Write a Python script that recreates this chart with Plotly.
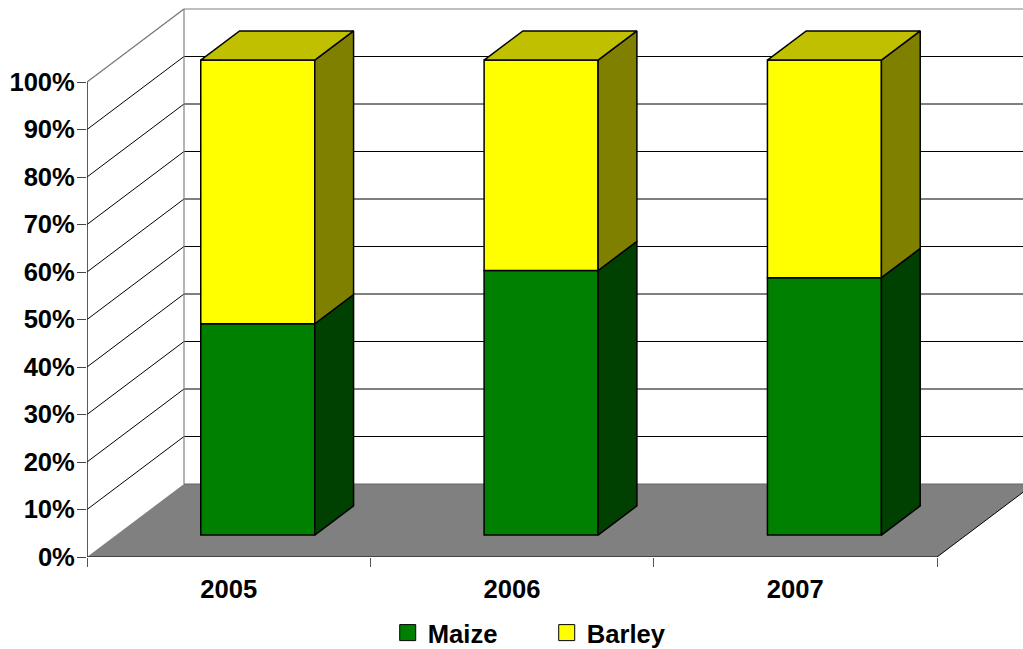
import plotly.graph_objects as go

# Chart data: share of each crop per year, in percent
years = ["2005", "2006", "2007"]
maize = [44.5, 55.7, 54.2]
barley = [55.5, 44.3, 45.8]
y_ticks = [0, 10, 20, 30, 40, 50, 60, 70, 80, 90, 100]
y_labels = ["0%", "10%", "20%", "30%", "40%", "50%", "60%", "70%", "80%", "90%", "100%"]
x_ticks = [0, 1, 2, 3]

# Oblique projection: moving to the back wall shifts a point by this much in axis units
DEPTH_X = 97 / (850 / 3)
DEPTH_Y = 73 / 4.75
X_MAX = 936 / (850 / 3)
Y_MAX = 557 / 4.75
BAR_WIDTH = 114 / (850 / 3)
BAR_NEAR, BAR_FAR = 0.3, 0.7
FONT = dict(family="Liberation Sans, Arial, sans-serif", size=25.6, color="black", weight=700)

GREEN, GREEN_SIDE = "#008000", "#004000"
YELLOW, YELLOW_SIDE, YELLOW_TOP = "#ffff00", "#808000", "#c0c000"


def polygon(points):
    return "M" + " L".join(f"{x},{y}" for x, y in points) + " Z"


def wall_line(points, color="black", width=1):
    path = "M" + " L".join(f"{x},{y}" for x, y in points)
    return dict(type="path", path=path, layer="below", xref="x", yref="y",
                line=dict(color=color, width=width))


# Floor and back/side walls sit beneath the bars
shapes = [dict(type="path", layer="below", xref="x", yref="y", fillcolor="#808080",
               line=dict(color="#808080", width=0),
               path=polygon([(0, 0), (3, 0), (3 + DEPTH_X, DEPTH_Y), (DEPTH_X, DEPTH_Y)]))]
for v in y_ticks[1:]:
    color = "#808080" if v == 100 else "black"
    shapes.append(wall_line([(0, v), (DEPTH_X, v + DEPTH_Y), (X_MAX, v + DEPTH_Y)], color))
shapes.append(wall_line([(DEPTH_X, DEPTH_Y), (X_MAX, DEPTH_Y)], "#666666"))
shapes.append(wall_line([(DEPTH_X, DEPTH_Y), (DEPTH_X, 100 + DEPTH_Y)], "#808080", 1.2))
shapes.append(wall_line([(3, 0), (3 + DEPTH_X, DEPTH_Y)], "black"))

fig = go.Figure()

centers = [i + 0.5 + BAR_NEAR * DEPTH_X for i in range(len(years))]
lift = BAR_NEAR * DEPTH_Y
bar_line = dict(color="black", width=1.5)

# Front faces of the stacked columns
fig.add_bar(x=centers, y=maize, base=[lift] * 3, width=BAR_WIDTH, marker_color=GREEN,
            marker_line=bar_line, showlegend=False, hoverinfo="skip")
fig.add_bar(x=centers, y=barley, base=[lift + m for m in maize], width=BAR_WIDTH,
            marker_color=YELLOW, marker_line=bar_line, showlegend=False, hoverinfo="skip")


def add_face(points, color):
    xs, ys = zip(*(points + points[:1]))
    fig.add_scatter(x=xs, y=ys, mode="lines", fill="toself", fillcolor=color,
                    line=dict(color="black", width=1.5), showlegend=False,
                    hoverinfo="skip", cliponaxis=False)


# Side and top faces, derived from the same values as the front faces
span = BAR_FAR - BAR_NEAR
for c, m, b in zip(centers, maize, barley):
    right = c + BAR_WIDTH / 2
    left = c - BAR_WIDTH / 2
    dx, dy = span * DEPTH_X, span * DEPTH_Y
    low, mid, top = lift, lift + m, lift + m + b
    add_face([(right, low), (right + dx, low + dy), (right + dx, mid + dy), (right, mid)], GREEN_SIDE)
    add_face([(right, mid), (right + dx, mid + dy), (right + dx, top + dy), (right, top)], YELLOW_SIDE)
    add_face([(left, top), (right, top), (right + dx, top + dy), (left + dx, top + dy)], YELLOW_TOP)

# Front axis lines and the gray corner of the side wall
fig.add_scatter(x=[0, 0], y=[0, 100], mode="lines", line=dict(color="#222222", width=1.5),
                showlegend=False, hoverinfo="skip", cliponaxis=False)
fig.add_scatter(x=[0, 3], y=[0, 0], mode="lines", line=dict(color="#333333", width=1.5),
                showlegend=False, hoverinfo="skip", cliponaxis=False)
fig.add_scatter(x=[0, DEPTH_X], y=[100, 100 + DEPTH_Y], mode="lines",
                line=dict(color="#808080", width=1.2),
                showlegend=False, hoverinfo="skip", cliponaxis=False)

# Legend entries
for name, color in (("Maize", GREEN), ("Barley", YELLOW)):
    fig.add_scatter(x=[None], y=[None], mode="markers", name=name,
                    marker=dict(symbol="square", size=16, color=color,
                                line=dict(color="black", width=1)))

fig.update_layout(
    width=1023, height=649, autosize=False,
    margin=dict(l=87, r=0, t=0, b=92, pad=0),
    paper_bgcolor="white", plot_bgcolor="white",
    barmode="overlay", font=FONT, shapes=shapes,
    legend=dict(orientation="h", xref="container", yref="container",
                x=0.379, y=0.0247, xanchor="left", yanchor="middle",
                font=FONT, entrywidth=114, entrywidthmode="pixels",
                bgcolor="rgba(0,0,0,0)"),
    xaxis=dict(range=[0, X_MAX], tickmode="array",
               tickvals=[i + 0.5 for i in range(len(years))], ticktext=years,
               ticks="outside", ticklen=9, tickcolor="rgba(0,0,0,0)", tickwidth=1,
               minor=dict(tickmode="array", tickvals=x_ticks, ticks="outside",
                          ticklen=9, tickcolor="#555555", tickwidth=1),
               showgrid=False, zeroline=False, showline=False,
               tickfont=FONT),
    yaxis=dict(range=[0, Y_MAX], tickmode="array", tickvals=y_ticks, ticktext=y_labels,
               ticks="outside", ticklen=9, tickcolor="#444444", tickwidth=1,
               ticklabelstandoff=-3,
               showgrid=False, zeroline=False, showline=False,
               tickfont=FONT),
)

fig.write_html("out.html", config=dict(displayModeBar=False))
